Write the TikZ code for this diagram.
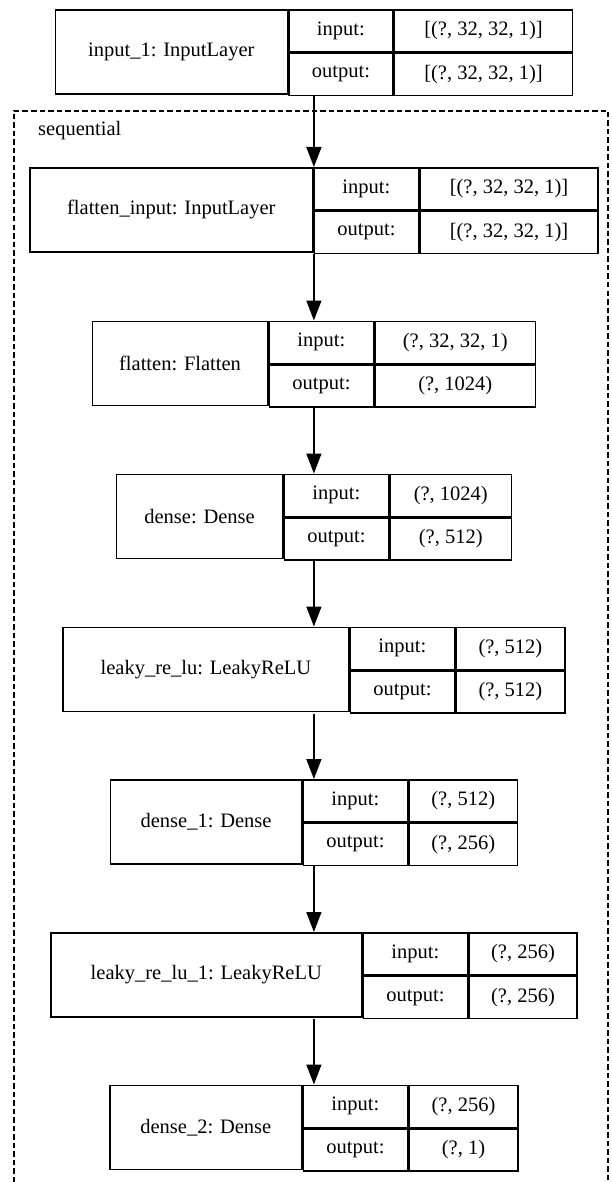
\documentclass[tikz,border=0pt]{standalone}
\usepackage{fontspec}
\setmainfont{Liberation Serif}
\usetikzlibrary{arrows.meta,fit}

\tikzset{
  layerbox/.style={draw, line width=1.6pt, inner sep=0pt, minimum height=84pt, anchor=north west},
  keybox/.style={draw, line width=1.6pt, inner sep=0pt, minimum width=104pt, minimum height=42pt, anchor=north west},
  valbox/.style={draw, line width=1.6pt, inner sep=0pt, minimum height=42pt, anchor=north west},
  wholebox/.style={inner sep=0pt, outer sep=0pt},
  edge/.style={line width=1.6pt, -{Triangle[length=20pt,width=15pt]}}
}

\begin{document}
\begin{tikzpicture}[x=1pt,y=-1pt,font=\fontsize{20.5}{24}\selectfont]
\useasboundingbox (0,0) rectangle (612,1182);

% sequential cluster
\draw[line width=1.4pt, dash pattern=on 5.5pt off 3pt] (14,1182) -- (14,111) -- (608,111) -- (608,1182);
\node[anchor=base west, inner sep=0pt] (seq) at (38,136) {sequential};

% input_1
\node[layerbox, minimum width=232pt] (l1) at (54.5,9) {input\_1: InputLayer};
\node[keybox] (l1i) at (l1.north east) {input:};
\node[keybox] (l1o) at (l1i.south west) {output:};
\node[valbox, minimum width=178pt] (l1iv) at (l1i.north east) {[(?, 32, 32, 1)]};
\node[valbox, minimum width=178pt] (l1ov) at (l1o.north east) {[(?, 32, 32, 1)]};
\node[wholebox, fit=(l1)(l1ov)] (b1) {};

% flatten_input
\node[layerbox, minimum width=283pt] (l2) at (29,167) {flatten\_input: InputLayer};
\node[keybox] (l2i) at (l2.north east) {input:};
\node[keybox] (l2o) at (l2i.south west) {output:};
\node[valbox, minimum width=178pt] (l2iv) at (l2i.north east) {[(?, 32, 32, 1)]};
\node[valbox, minimum width=178pt] (l2ov) at (l2o.north east) {[(?, 32, 32, 1)]};
\node[wholebox, fit=(l2)(l2ov)] (b2) {};

% flatten
\node[layerbox, minimum width=175.5pt] (l3) at (91.5,320.5) {flatten: Flatten};
\node[keybox] (l3i) at (l3.north east) {input:};
\node[keybox] (l3o) at (l3i.south west) {output:};
\node[valbox, minimum width=160.5pt] (l3iv) at (l3i.north east) {(?, 32, 32, 1)};
\node[valbox, minimum width=160.5pt] (l3ov) at (l3o.north east) {(?, 1024)};
\node[wholebox, fit=(l3)(l3ov)] (b3) {};

% dense
\node[layerbox, minimum width=166.5pt] (l4) at (115.5,473.5) {dense: Dense};
\node[keybox] (l4i) at (l4.north east) {input:};
\node[keybox] (l4o) at (l4i.south west) {output:};
\node[valbox, minimum width=121.5pt] (l4iv) at (l4i.north east) {(?, 1024)};
\node[valbox, minimum width=121.5pt] (l4ov) at (l4o.north east) {(?, 512)};
\node[wholebox, fit=(l4)(l4ov)] (b4) {};

% leaky_re_lu
\node[layerbox, minimum width=285.75pt] (l5) at (62.25,626.5) {leaky\_re\_lu: LeakyReLU};
\node[keybox] (l5i) at (l5.north east) {input:};
\node[keybox] (l5o) at (l5i.south west) {output:};
\node[valbox, minimum width=108.75pt] (l5iv) at (l5i.north east) {(?, 512)};
\node[valbox, minimum width=108.75pt] (l5ov) at (l5o.north east) {(?, 512)};
\node[wholebox, fit=(l5)(l5ov)] (b5) {};

% dense_1
\node[layerbox, minimum width=191.5pt] (l6) at (109.5,779) {dense\_1: Dense};
\node[keybox] (l6i) at (l6.north east) {input:};
\node[keybox] (l6o) at (l6i.south west) {output:};
\node[valbox, minimum width=108.5pt] (l6iv) at (l6i.north east) {(?, 512)};
\node[valbox, minimum width=108.5pt] (l6ov) at (l6o.north east) {(?, 256)};
\node[wholebox, fit=(l6)(l6ov)] (b6) {};

% leaky_re_lu_1
\node[layerbox, minimum width=311pt] (l7) at (50,932) {leaky\_re\_lu\_1: LeakyReLU};
\node[keybox] (l7i) at (l7.north east) {input:};
\node[keybox] (l7o) at (l7i.south west) {output:};
\node[valbox, minimum width=108pt] (l7iv) at (l7i.north east) {(?, 256)};
\node[valbox, minimum width=108pt] (l7ov) at (l7o.north east) {(?, 256)};
\node[wholebox, fit=(l7)(l7ov)] (b7) {};

% dense_2
\node[layerbox, minimum width=192pt] (l8) at (109,1084.5) {dense\_2: Dense};
\node[keybox] (l8i) at (l8.north east) {input:};
\node[keybox] (l8o) at (l8i.south west) {output:};
\node[valbox, minimum width=109pt] (l8iv) at (l8i.north east) {(?, 256)};
\node[valbox, minimum width=109pt] (l8ov) at (l8o.north east) {(?, 1)};
\node[wholebox, fit=(l8)(l8ov)] (b8) {};

% edges
\draw[edge] (b1.south) -- (b2.north);
\draw[edge] (b2.south) -- (b3.north);
\draw[edge] (b3.south) -- (b4.north);
\draw[edge] (b4.south) -- (b5.north);
\draw[edge] (b5.south) -- (b6.north);
\draw[edge] (b6.south) -- (b7.north);
\draw[edge] (b7.south) -- (b8.north);
\end{tikzpicture}
\end{document}
